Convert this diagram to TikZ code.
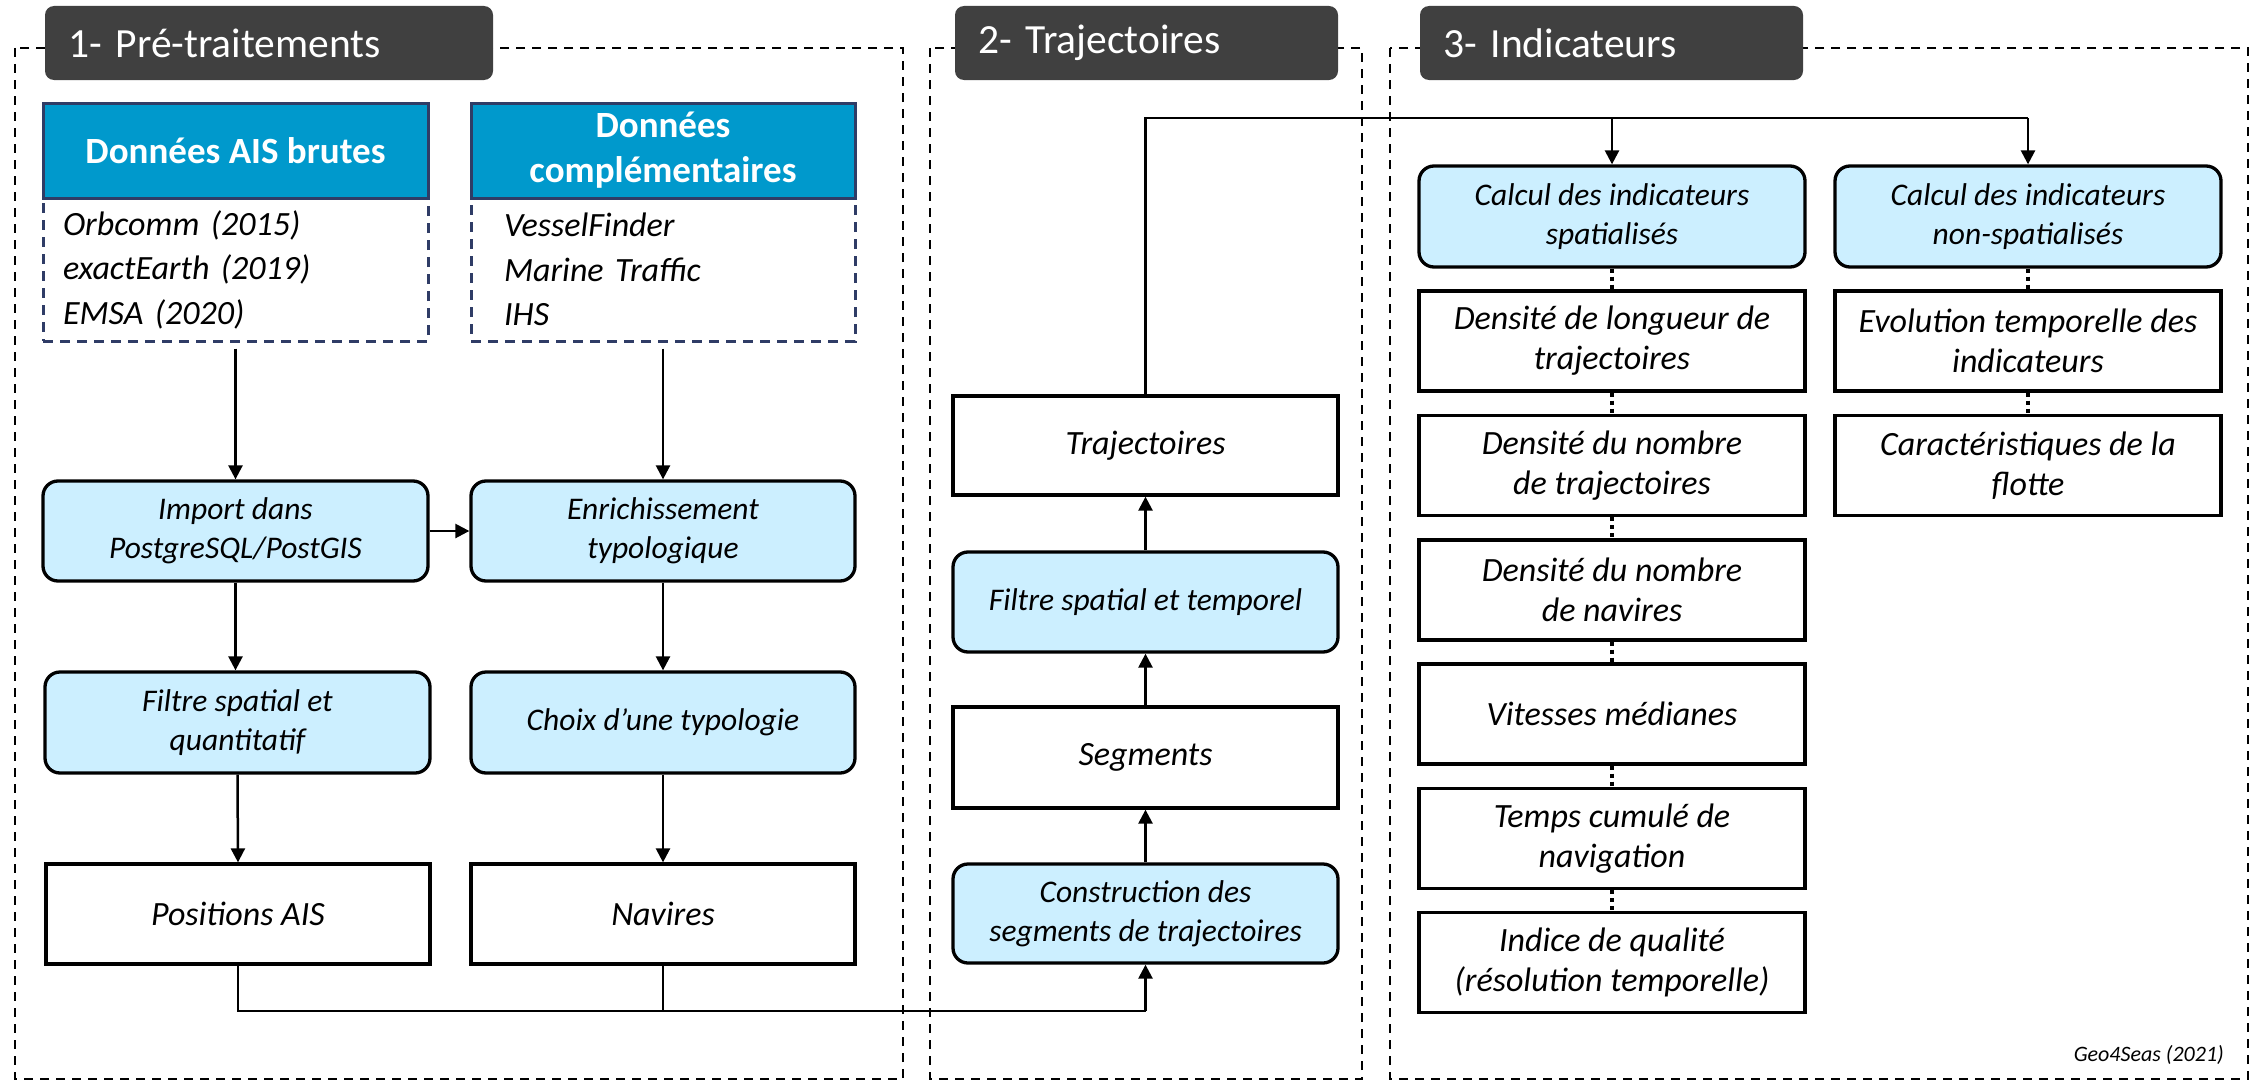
\documentclass[tikz,border=0pt]{standalone}
\usepackage{fontspec}
\setmainfont{Carlito}
\usetikzlibrary{arrows.meta}

\definecolor{hdrgrey}{RGB}{64,64,64}
\definecolor{aisblue}{RGB}{0,153,204}
\definecolor{navy}{RGB}{47,60,102}
\definecolor{lightblue}{RGB}{204,239,255}

\tikzset{
  frame/.style={draw=black, line width=2.2pt, dash pattern=on 9pt off 7pt},
  header/.style={fill=hdrgrey, rounded corners=9pt, text=white, align=left,
    minimum height=74pt, inner xsep=23pt, inner ysep=0pt,
    font=\fontsize{41.5}{48}\selectfont},
  datahead/.style={draw=navy, line width=3pt, fill=aisblue, text=white, align=center,
    minimum height=95pt, font=\bfseries\fontsize{37}{45}\selectfont},
  databody/.style={draw=navy, line width=3pt, dash pattern=on 10pt off 7pt, align=left,
    minimum height=143pt, inner ysep=0pt, font=\itshape\fontsize{34}{44.5}\selectfont},
  stepbox/.style={draw=black, line width=3.3pt, fill=lightblue, rounded corners=15pt,
    align=center, inner sep=0pt, font=\itshape\fontsize{31.5}{39}\selectfont},
  outbox/.style={draw=black, line width=3.3pt, fill=white, align=center, inner sep=0pt,
    font=\itshape\fontsize{34}{40}\selectfont},
  arr/.style={line width=2.5pt, -{Triangle[length=14pt,width=14pt]}},
  link/.style={line width=2.5pt},
  dots/.style={line width=4pt, dash pattern=on 4pt off 4pt}
}

\begin{document}
\begin{tikzpicture}[x=1pt, y=-1pt]
\useasboundingbox (0,0) rectangle (2262,1081);

% dashed section frames
\draw[frame] (15,48) rectangle (903,1079);
\draw[frame] (930,48) rectangle (1362,1079);
\draw[frame] (1390,48) rectangle (2248,1079);

% section titles
\node[header, text width=402pt] (h1) at (269,43) {1- Pré-traitements};
\node[header, text width=337pt] (h2) at (1146.5,43) {2- Trajectoires};
\node[header, text width=337pt] (h3) at (1611.5,43) {3- Indicateurs};

% ---- 1- Pré-traitements ----
\node[databody, minimum width=385pt, text width=345pt, inner xsep=20pt] (aisB) at (235.5,269.5)
  {Orbcomm (2015)\\exactEarth (2019)\\EMSA (2020)};
\node[datahead, minimum width=385pt] (aisH) at (235.5,150.5) {Données AIS brutes};

\node[databody, minimum width=384pt, text width=318pt, inner xsep=33pt] (compB) at (663,269.5)
  {VesselFinder\\Marine Traffic\\IHS};
\node[datahead, minimum width=384pt] (compH) at (663,150.5) {Données\\complémentaires};

\node[stepbox, minimum width=385pt, minimum height=100pt] (import) at (235.5,531)
  {Import dans\\PostgreSQL/PostGIS};
\node[stepbox, minimum width=384pt, minimum height=100pt] (enrich) at (663,531)
  {Enrichissement\\typologique};
\node[stepbox, minimum width=385pt, minimum height=101pt] (filtreQ) at (237.5,722.5)
  {Filtre spatial et\\quantitatif};
\node[stepbox, minimum width=384pt, minimum height=101pt] (choix) at (663,722.5)
  {Choix d’une typologie};
\node[outbox, minimum width=384pt, minimum height=100pt] (pos) at (238,914) {Positions AIS};
\node[outbox, minimum width=384pt, minimum height=100pt] (nav) at (663,914) {Navires};

\draw[arr] ([yshift=-6pt]aisB.south) -- (import.north);
\draw[arr] ([yshift=-6pt]compB.south) -- (enrich.north);
\draw[arr] (import.east) -- (enrich.west);
\draw[arr] (import.south) -- (import.south |- filtreQ.north);
\draw[arr] (enrich.south) -- (choix.north);
\draw[arr] (filtreQ.south) -- (pos.north);
\draw[arr] (choix.south) -- (nav.north);

% ---- 2- Trajectoires ----
\node[outbox, minimum width=385pt, minimum height=99pt] (traj) at (1145.5,445.5) {Trajectoires};
\node[stepbox, minimum width=385pt, minimum height=100pt] (filtreT) at (1145.5,602)
  {Filtre spatial et temporel};
\node[outbox, minimum width=385pt, minimum height=101pt] (seg) at (1145.5,757.5) {Segments};
\node[stepbox, minimum width=385pt, minimum height=99pt] (constr) at (1145.5,913.5)
  {Construction des\\segments de trajectoires};

\coordinate (lowrail) at (0,1011);
\draw[link] (pos.south) |- (constr.south |- lowrail);
\draw[link] (nav.south) -- (nav.south |- lowrail);
\draw[arr] (constr.south |- lowrail) -- (constr.south);
\draw[arr] (constr.north) -- (seg.south);
\draw[arr] (seg.north) -- (filtreT.south);
\draw[arr] (filtreT.north) -- (traj.south);

% ---- 3- Indicateurs ----
\node[stepbox, minimum width=386pt, minimum height=101pt] (calcS) at (1612,216.5)
  {Calcul des indicateurs\\spatialisés};
\node[stepbox, minimum width=386pt, minimum height=101pt] (calcN) at (2028,216.5)
  {Calcul des indicateurs\\non-spatialisés};

\node[outbox, minimum width=386pt, minimum height=100pt] (s1) at (1612,341)
  {Densité de longueur de\\trajectoires};
\node[outbox, minimum width=386pt, minimum height=100pt] (s2) at (1612,465.5)
  {Densité du nombre\\de trajectoires};
\node[outbox, minimum width=386pt, minimum height=100pt] (s3) at (1612,590)
  {Densité du nombre\\de navires};
\node[outbox, minimum width=386pt, minimum height=100pt] (s4) at (1612,714)
  {Vitesses médianes};
\node[outbox, minimum width=386pt, minimum height=100pt] (s5) at (1612,838.5)
  {Temps cumulé de\\navigation};
\node[outbox, minimum width=386pt, minimum height=100pt] (s6) at (1612,962.5)
  {Indice de qualité\\(résolution temporelle)};

\node[outbox, minimum width=386pt, minimum height=100pt] (n1) at (2028,341)
  {Evolution temporelle des\\indicateurs};
\node[outbox, minimum width=386pt, minimum height=100pt] (n2) at (2028,465.5)
  {Caractéristiques de la\\flotte};

\coordinate (toprail) at (0,118);
\draw[link] (traj.north) -- (traj.north |- toprail) -- (calcN.north |- toprail);
\draw[arr] (calcS.north |- toprail) -- (calcS.north);
\draw[arr] (calcN.north |- toprail) -- (calcN.north);

\draw[dots] (calcS.south) -- (s1.north);
\draw[dots] (s1.south) -- (s2.north);
\draw[dots] (s2.south) -- (s3.north);
\draw[dots] (s3.south) -- (s4.north);
\draw[dots] (s4.south) -- (s5.north);
\draw[dots] (s5.south) -- (s6.north);
\draw[dots] (calcN.south) -- (n1.north);
\draw[dots] (n1.south) -- (n2.north);

\node[anchor=east, inner sep=0pt, font=\itshape\fontsize{22}{26}\selectfont] (credit) at (2224,1055)
  {Geo4Seas (2021)};
\end{tikzpicture}
\end{document}
